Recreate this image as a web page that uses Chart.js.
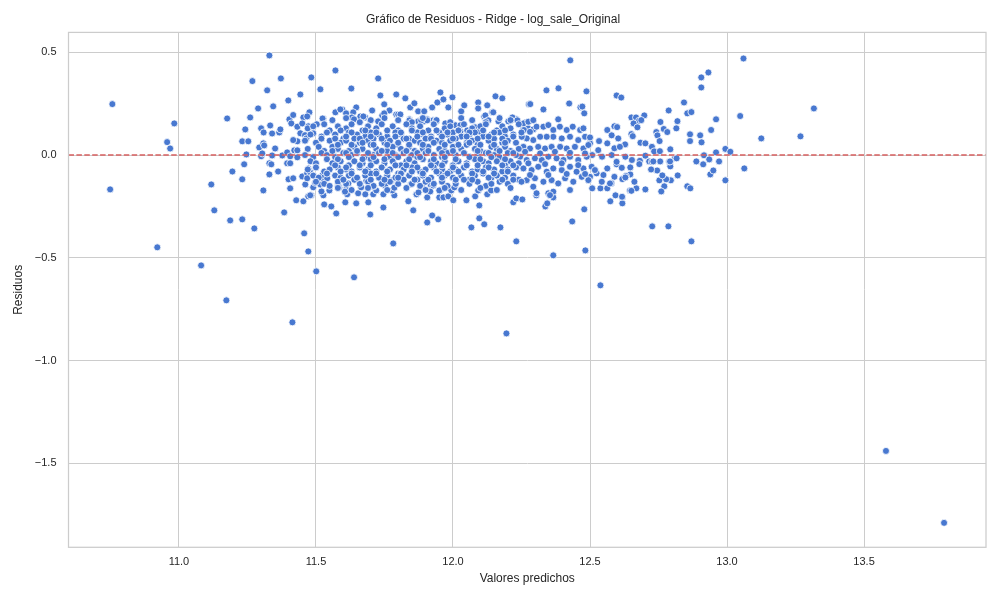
<!DOCTYPE html>
<html>
<head>
<meta charset="utf-8">
<script src="https://cdn.jsdelivr.net/npm/chart.js@4.4.1/dist/chart.umd.min.js"></script>
<style>
  html, body { margin: 0; padding: 0; background: #fff; }
</style>
</head>
<body>
<canvas id="grafico" width="1000" height="600"></canvas>
<script>
// [valor predicho, residuo]
const extremos = [
  [10.757,0.248],[10.749,-0.167],[10.957,0.063],[10.968,0.032],[10.983,0.154],[10.921,-0.449],
  [11.081,-0.537],[11.173,-0.707],[11.414,-0.814],[11.501,-0.566],[11.639,-0.595],[12.195,-0.868],
  [12.538,-0.634],[13.58,-1.44],[13.792,-1.79],[13.317,0.227],[13.268,0.091],[13.125,0.081],
  [13.06,0.47],[13.048,0.19],[13.063,-0.065],[12.428,0.461],[11.33,0.485],[11.571,0.412]
];

const flancoIzquierdo = [
  [11.118,-0.143],[11.129,-0.269],[11.176,0.178],[11.187,-0.318],[11.195,-0.08],[11.231,-0.313],
  [11.231,0.067],[11.231,-0.118],[11.238,-0.045],[11.242,0.125],[11.246,0.003],[11.253,0.067],
  [11.26,0.183],[11.268,0.36],[11.275,-0.357],[11.289,0.227],[11.293,0.037],[11.3,0.13],
  [11.3,-0.006],[11.304,0.008],[11.308,-0.172],[11.308,0.057],[11.309,0.11],[11.311,0.047],
  [11.322,0.315],[11.33,-0.04],[11.33,-0.094],[11.333,0.144],[11.337,-0.045],[11.34,0.105],
  [11.34,-0.002],[11.344,0.237],[11.351,0.032],[11.362,-0.08],[11.366,0.11],[11.37,0.125],
  [11.372,0.373],[11.377,-0.002],[11.384,-0.279],[11.395,0.013],[11.395,-0.04],[11.399,0.266],
  [11.4,-0.118],[11.403,0.174],[11.406,-0.006],[11.406,-0.04],[11.406,-0.162],[11.41,0.154],
  [11.417,0.195],[11.417,-0.113],[11.421,0.023],[11.428,-0.22],[11.432,0.023],[11.432,-0.011],
  [11.432,0.067],[11.443,0.295],[11.443,0.106],[11.432,0.138],[11.46,0.097],[11.417,0.073]
];

const bordeSuperior = [
  [11.483,0.378],[11.516,0.32],[11.629,0.324],[11.727,0.373],[11.735,0.29],[11.793,0.295],
  [11.826,0.276],[11.749,0.247],[11.768,0.217],[11.793,0.198],[11.476,0.208],[11.647,0.232],
  [11.705,0.217],[11.742,0.193],[11.454,0.183],[11.468,0.188],[11.45,0.154],[11.472,0.14],
  [11.49,0.106],[11.465,0.081],[11.844,0.232],[11.859,0.252],[11.873,0.213],[11.895,0.213],
  [11.924,0.232],[11.943,0.256],[11.954,0.305],[11.965,0.271],[11.983,0.232],[11.998,0.281],
  [12.03,0.213],[12.041,0.242],[12.092,0.256],[12.092,0.227],[12.125,0.242],[12.155,0.286],
  [12.18,0.276],[12.114,0.188],[12.143,0.208],[12.216,0.183],[12.232,0.174],[12.277,0.247],
  [12.282,0.248],[12.33,0.222],[12.341,0.315],[12.385,0.325],[12.424,0.251],[12.465,0.233],
  [12.472,0.236],[12.479,0.203],[12.487,0.31],[12.597,0.29],[12.614,0.28],[11.571,0.208],
  [11.596,0.222],[11.589,0.222],[11.61,0.203],[11.636,0.208],[11.527,0.178],[11.503,0.15],
  [11.8,0.198],[11.662,0.188],[11.68,0.183],[11.631,0.183],[11.639,0.174],[11.673,0.188],
  [11.698,0.169],[11.727,0.164],[11.749,0.203],[11.808,0.198],[11.841,0.174],[11.873,0.164],
  [11.895,0.164],[11.906,0.174],[11.928,0.169],[11.939,0.164],[11.972,0.154],[11.994,0.154],
  [12.009,0.145],[12.027,0.115],[12.052,0.12],[12.081,0.135],[12.096,0.115],[12.027,0.145],
  [11.976,0.115],[11.938,0.169],[11.906,0.169],[11.884,0.169],[11.841,0.169],[12.147,0.208],
  [12.118,0.193],[12.129,0.169],[12.217,0.183],[12.235,0.169],[12.264,0.159],[12.293,0.169],
  [12.202,0.164],[12.166,0.164],[12.257,0.13],[12.275,0.13],[12.293,0.125],[11.524,0.178]
];

const bordeInferior = [
  [11.457,-0.381],[11.472,-0.469],[11.454,-0.225],[11.472,-0.201],[11.483,-0.196],[11.479,-0.196],
  [11.527,-0.196],[11.53,-0.24],[11.556,-0.25],[11.574,-0.284],[11.607,-0.23],[11.614,-0.191],
  [11.647,-0.235],[11.654,-0.186],[11.68,-0.191],[11.691,-0.23],[11.709,-0.191],[11.698,-0.289],
  [11.746,-0.191],[11.746,-0.255],[11.786,-0.196],[11.782,-0.43],[11.837,-0.225],[11.855,-0.269],
  [11.866,-0.191],[11.906,-0.206],[11.906,-0.328],[11.924,-0.294],[11.946,-0.313],[11.917,-0.177],
  [11.954,-0.17],[11.95,-0.206],[11.965,-0.206],[11.983,-0.201],[12.001,-0.22],[12.049,-0.22],
  [12.081,-0.201],[12.096,-0.245],[12.125,-0.191],[12.096,-0.308],[12.114,-0.337],[12.067,-0.352],
  [12.173,-0.352],[12.22,-0.23],[12.231,-0.211],[12.253,-0.216],[12.304,-0.196],[12.231,-0.42],
  [12.366,-0.488],[12.483,-0.464],[12.435,-0.323],[12.479,-0.264],[12.337,-0.25],[12.344,-0.235],
  [12.362,-0.201],[12.366,-0.206],[12.348,-0.186],[12.574,-0.225],[12.593,-0.196],[12.618,-0.206],
  [12.618,-0.235],[12.508,-0.162],[12.538,-0.162],[12.563,-0.162],[12.578,-0.138],[12.646,-0.172],
  [11.549,-0.172],[11.52,-0.177],[11.461,-0.143],[11.49,-0.157],[11.497,-0.135],[11.516,-0.143],
  [11.61,-0.167],[11.606,-0.178],[11.72,-0.172],[11.711,-0.152],[11.752,-0.148],[11.779,-0.172],
  [11.786,-0.159],[11.846,-0.143],[11.886,-0.152],[11.918,-0.143],[11.928,-0.148],[11.95,-0.172],
  [11.994,-0.172],[12.005,-0.157],[11.867,-0.191],[11.874,-0.182],[12.092,-0.172],[12.139,-0.172],
  [11.45,-0.104],[11.468,-0.089],[11.479,-0.084],[11.49,-0.099],[11.468,-0.113],[11.472,-0.065],
  [11.527,-0.118],[11.523,-0.099],[11.541,-0.113],[11.585,-0.157],[11.581,-0.148],[11.618,-0.138],
  [11.665,-0.157],[11.684,-0.125],[11.742,-0.124],[11.775,-0.124],[11.793,-0.108]
];

const flancoDerecho = [
  [12.563,0.122],[12.589,0.14],[12.599,0.136],[12.579,0.096],[12.603,0.081],[12.628,0.052],
  [12.651,0.102],[12.656,0.092],[12.684,0.06],[12.702,0.057],[12.726,0.04],[12.734,0.018],
  [12.716,-0.031],[12.702,-0.003],[12.682,-0.028],[12.68,-0.044],[12.726,-0.033],[12.669,-0.162],
  [12.651,-0.174],[12.702,-0.167],[12.617,-0.203],[12.662,-0.13],[12.647,-0.094],[12.631,-0.102],
  [12.618,-0.117],[12.589,-0.106],[12.578,-0.136],[12.563,-0.065],[12.597,-0.045],[12.616,-0.062],
  [12.647,-0.06],[12.629,-0.008],[12.653,-0.024],[12.533,0.068],[12.563,0.057],[12.589,0.033],
  [12.609,0.04],[12.544,-0.008],[12.579,0.0],[12.597,-0.033],[12.5,-0.106],[12.524,-0.089],
  [12.543,-0.13],[12.573,-0.138],[12.506,-0.057],[12.698,0.193],[12.651,0.183],[12.668,0.183],
  [12.679,0.167],[12.687,0.17],[12.659,0.154],[12.673,0.135],[12.757,0.161],[12.769,0.127],
  [12.782,0.112],[12.742,0.112],[12.746,0.096],[12.754,0.068],[12.787,0.217],[12.819,0.165],
  [12.815,0.13],[12.843,0.256],[12.855,0.203],[12.87,0.209],[12.865,0.101],[12.865,0.068],
  [12.902,0.096],[12.907,0.062],[12.932,0.402],[12.906,0.378],[12.906,0.329],[12.96,0.174],
  [12.942,0.122],[12.994,0.03],[13.012,0.016],[12.96,0.013],[12.916,-0.001],[12.913,-0.045],
  [12.935,-0.021],[12.971,-0.031],[12.888,-0.031],[12.939,-0.094],[12.95,-0.075],[12.994,-0.123],
  [12.855,-0.152],[12.866,-0.162],[12.82,-0.099],[12.795,-0.123],[12.81,-0.016],[12.771,-0.152],
  [12.76,-0.177],[12.753,-0.123],[12.778,-0.118],[12.764,-0.099],[12.793,-0.055],[12.789,-0.031],
  [12.756,-0.031],[12.745,-0.075],[12.723,-0.07],[12.731,-0.031],[12.816,-0.016],[12.792,-0.031],
  [12.793,0.028],[12.755,0.019],[12.727,-0.347],[12.786,-0.347],[12.87,-0.42],[12.629,-0.109],
  [12.5,0.057],[12.508,0.0],[12.53,0.024],[12.518,-0.073],[12.549,-0.097]
];

const nucleoDerecho = [
  [12.257,0.154],[12.275,0.162],[12.293,0.17],[12.259,0.122],[12.281,0.113],[12.305,0.138],
  [12.33,0.138],[12.348,0.146],[12.366,0.122],[12.384,0.174],[12.39,0.138],[12.415,0.122],
  [12.437,0.138],[12.464,0.122],[12.476,0.13],[12.482,0.089],[12.5,0.086],[12.457,0.073],
  [12.427,0.089],[12.397,0.081],[12.366,0.089],[12.342,0.089],[12.318,0.089],[12.293,0.073],
  [12.269,0.081],[12.251,0.089],[12.257,0.04],[12.281,0.032],[12.311,0.04],[12.336,0.032],
  [12.36,0.04],[12.391,0.04],[12.415,0.032],[12.445,0.04],[12.476,0.032],[12.494,0.049],
  [12.245,-0.008],[12.269,-0.024],[12.299,-0.016],[12.324,-0.024],[12.348,-0.008],[12.378,-0.016],
  [12.403,-0.024],[12.427,-0.008],[12.457,-0.024],[12.488,-0.008],[12.257,-0.065],[12.287,-0.073],
  [12.311,-0.057],[12.342,-0.081],[12.366,-0.065],[12.397,-0.073],[12.427,-0.057],[12.451,-0.081],
  [12.476,-0.065],[12.269,-0.122],[12.299,-0.113],[12.33,-0.13],[12.36,-0.122],[12.384,-0.138],
  [12.409,-0.113],[12.439,-0.13],[12.47,-0.106],[12.494,-0.122],[12.305,-0.186],[12.366,-0.178],
  [12.427,-0.17],[12.293,-0.154],[12.354,-0.195],[12.263,0.016],[12.318,0.008],[12.372,0.016],
  [12.427,0.011],[12.482,0.008],[12.275,-0.04],[12.336,-0.044],[12.397,-0.04],[12.457,-0.049],
  [12.281,-0.097],[12.348,-0.097],[12.415,-0.092],[12.482,-0.092]
];

const nucleo = [
  [11.56,0.17],[11.61,0.18],[11.66,0.16],[11.70,0.17],[11.75,0.18],[11.80,0.17],[11.85,0.16],[11.89,0.18],
  [11.94,0.17],[11.99,0.16],[12.03,0.18],[12.07,0.17],[12.12,0.16],[12.17,0.18],[12.21,0.17],
  [11.47,0.13],[11.49,0.14],[11.53,0.15],[11.55,0.12],[11.58,0.14],[11.61,0.13],[11.63,0.15],[11.67,0.12],
  [11.69,0.14],[11.72,0.13],[11.74,0.15],[11.78,0.14],[11.80,0.12],[11.83,0.15],[11.85,0.13],[11.88,0.14],
  [11.91,0.12],[11.93,0.15],[11.97,0.13],[11.99,0.14],[12.02,0.12],[12.04,0.15],[12.07,0.13],[12.10,0.14],
  [12.12,0.15],[12.16,0.12],[12.18,0.14],[12.21,0.13],[12.24,0.15],
  [11.48,0.10],[11.52,0.09],[11.54,0.11],[11.57,0.10],[11.60,0.08],[11.62,0.11],[11.65,0.10],[11.68,0.09],
  [11.70,0.11],[11.73,0.10],[11.76,0.09],[11.79,0.11],[11.81,0.10],[11.84,0.08],[11.87,0.11],[11.89,0.10],
  [11.92,0.09],[11.95,0.11],[11.98,0.10],[12.00,0.11],[12.03,0.09],[12.06,0.10],[12.08,0.11],[12.11,0.09],
  [12.14,0.10],[12.17,0.11],[12.19,0.09],[12.22,0.10],[12.25,0.11],
  [11.46,0.07],[11.50,0.06],[11.52,0.08],[11.55,0.07],[11.59,0.06],[11.61,0.07],[11.64,0.08],[11.66,0.06],
  [11.69,0.07],[11.71,0.08],[11.75,0.06],[11.77,0.07],[11.80,0.05],[11.82,0.08],[11.86,0.07],[11.88,0.06],
  [11.90,0.08],[11.94,0.07],[11.96,0.06],[11.99,0.07],[12.01,0.08],[12.05,0.06],[12.07,0.07],[12.09,0.05],
  [12.13,0.07],[12.15,0.08],[12.18,0.06],[12.20,0.07],[12.23,0.06],
  [11.47,0.03],[11.51,0.04],[11.53,0.02],[11.56,0.04],[11.58,0.03],[11.62,0.02],[11.64,0.04],[11.67,0.03],
  [11.70,0.05],[11.72,0.03],[11.76,0.02],[11.78,0.04],[11.81,0.03],[11.84,0.04],[11.86,0.02],[11.89,0.03],
  [11.91,0.04],[11.95,0.03],[11.97,0.02],[12.00,0.04],[12.03,0.03],[12.05,0.05],[12.08,0.03],[12.10,0.02],
  [12.14,0.04],[12.16,0.03],[12.19,0.04],[12.21,0.02],[12.24,0.03],
  [11.46,0.00],[11.49,-0.01],[11.52,0.01],[11.54,0.00],[11.57,-0.01],[11.60,0.01],[11.63,0.00],[11.65,0.01],
  [11.68,-0.01],[11.71,0.00],[11.73,0.01],[11.77,-0.01],[11.79,0.00],[11.82,0.01],[11.85,0.00],[11.87,-0.01],
  [11.90,0.01],[11.93,0.00],[11.96,-0.01],[11.98,0.01],[12.01,0.00],[12.04,0.01],[12.06,-0.01],[12.09,0.00],
  [12.12,0.01],[12.15,0.00],[12.17,-0.01],[12.20,0.01],[12.23,0.00],
  [11.48,-0.03],[11.50,-0.04],[11.54,-0.02],[11.56,-0.04],[11.59,-0.03],[11.62,-0.05],[11.64,-0.03],[11.67,-0.04],
  [11.70,-0.02],[11.72,-0.03],[11.75,-0.04],[11.78,-0.03],[11.81,-0.05],[11.83,-0.03],[11.86,-0.04],[11.89,-0.02],
  [11.92,-0.03],[11.94,-0.04],[11.97,-0.03],[12.00,-0.05],[12.02,-0.03],[12.05,-0.04],[12.08,-0.02],[12.11,-0.03],
  [12.13,-0.04],[12.16,-0.03],[12.19,-0.05],[12.21,-0.03],[12.24,-0.04],
  [11.47,-0.07],[11.50,-0.06],[11.53,-0.08],[11.55,-0.07],[11.58,-0.06],[11.61,-0.07],[11.63,-0.08],[11.66,-0.06],
  [11.69,-0.07],[11.72,-0.08],[11.74,-0.06],[11.77,-0.07],[11.80,-0.09],[11.82,-0.07],[11.85,-0.06],[11.88,-0.08],
  [11.90,-0.07],[11.93,-0.06],[11.96,-0.07],[11.99,-0.08],[12.01,-0.07],[12.04,-0.06],[12.07,-0.08],[12.09,-0.07],
  [12.12,-0.06],[12.15,-0.07],[12.18,-0.08],[12.20,-0.07],[12.23,-0.06],
  [11.49,-0.10],[11.51,-0.11],[11.54,-0.09],[11.57,-0.10],[11.59,-0.11],[11.62,-0.10],[11.65,-0.12],[11.68,-0.10],
  [11.70,-0.09],[11.73,-0.11],[11.76,-0.10],[11.79,-0.11],[11.81,-0.09],[11.84,-0.10],[11.87,-0.12],[11.89,-0.10],
  [11.92,-0.11],[11.95,-0.09],[11.97,-0.10],[12.00,-0.11],[12.03,-0.10],[12.06,-0.12],[12.08,-0.10],[12.11,-0.09],
  [12.14,-0.11],[12.16,-0.10],[12.19,-0.11],[12.22,-0.10],[12.24,-0.12],
  [11.50,-0.13],[11.53,-0.14],[11.55,-0.15],[11.58,-0.13],[11.61,-0.14],[11.64,-0.12],[11.66,-0.14],[11.69,-0.13],
  [11.71,-0.15],[11.74,-0.14],[11.77,-0.13],[11.80,-0.14],[11.82,-0.12],[11.85,-0.14],[11.88,-0.15],[11.90,-0.13],
  [11.93,-0.14],[11.96,-0.13],[11.98,-0.15],[12.01,-0.14],[12.04,-0.12],[12.06,-0.14],[12.09,-0.13],[12.12,-0.15],
  [12.14,-0.14],[12.17,-0.13],[12.20,-0.14],[12.22,-0.12],[12.25,-0.13],
  [11.58,-0.16],[11.63,-0.17],[11.69,-0.16],[11.76,-0.17],[11.83,-0.16],[11.90,-0.17],[11.97,-0.16],[12.03,-0.17],
  [12.10,-0.16],[12.16,-0.17],[12.21,-0.16]
];

// zona mas densa del centro, donde los puntos se tapan entre si
const nucleoDenso = [
  [11.59,0.12],[11.63,0.11],[11.68,0.12],[11.72,0.11],[11.76,0.12],[11.81,0.11],[11.85,0.12],[11.89,0.11],
  [11.94,0.12],[11.98,0.11],[12.02,0.12],[12.06,0.11],[12.11,0.12],[12.15,0.11],[12.19,0.12],
  [11.57,0.08],[11.61,0.09],[11.66,0.08],[11.70,0.09],[11.74,0.08],[11.79,0.09],[11.83,0.08],[11.87,0.09],
  [11.92,0.08],[11.96,0.09],[12.00,0.08],[12.05,0.09],[12.09,0.08],[12.13,0.09],[12.18,0.08],[12.22,0.09],
  [11.58,0.05],[11.63,0.05],[11.67,0.06],[11.71,0.05],[11.76,0.05],[11.80,0.06],[11.84,0.05],[11.89,0.05],
  [11.93,0.06],[11.97,0.05],[12.02,0.05],[12.06,0.06],[12.10,0.05],[12.15,0.05],[12.19,0.06],
  [11.56,0.02],[11.61,0.01],[11.65,0.02],[11.69,0.01],[11.74,0.02],[11.78,0.01],[11.83,0.02],[11.87,0.01],
  [11.91,0.02],[11.96,0.01],[12.00,0.02],[12.04,0.01],[12.09,0.02],[12.13,0.01],[12.17,0.02],[12.22,0.01],
  [11.58,-0.02],[11.62,-0.01],[11.67,-0.02],[11.71,-0.01],[11.75,-0.02],[11.80,-0.01],[11.84,-0.02],[11.88,-0.01],
  [11.93,-0.02],[11.97,-0.01],[12.01,-0.02],[12.06,-0.01],[12.10,-0.02],[12.14,-0.01],[12.19,-0.02],
  [11.57,-0.05],[11.61,-0.06],[11.66,-0.05],[11.70,-0.05],[11.74,-0.06],[11.79,-0.05],[11.83,-0.05],[11.87,-0.06],
  [11.92,-0.05],[11.96,-0.05],[12.00,-0.06],[12.05,-0.05],[12.09,-0.05],[12.13,-0.06],[12.18,-0.05],[12.22,-0.05],
  [11.59,-0.08],[11.63,-0.09],[11.68,-0.08],[11.72,-0.09],[11.76,-0.08],[11.81,-0.09],[11.85,-0.08],[11.89,-0.09],
  [11.94,-0.08],[11.98,-0.09],[12.02,-0.08],[12.07,-0.09],[12.11,-0.08],[12.15,-0.09],[12.20,-0.08],
  [11.60,-0.12],[11.65,-0.11],[11.70,-0.12],[11.75,-0.12],[11.80,-0.11],[11.86,-0.12],[11.91,-0.12],[11.96,-0.11],
  [12.01,-0.12],[12.07,-0.12],[12.13,-0.11],[12.18,-0.12]
];

const xTicks = [11.0, 11.5, 12.0, 12.5, 13.0, 13.5];
const xTickLabels = ['11.0', '11.5', '12.0', '12.5', '13.0', '13.5'];
const yTicks = [-1.5, -1.0, -0.5, 0.0, 0.5];
const yTickLabels = ['\u22121.5', '\u22121.0', '\u22120.5', '0.0', '0.5'];
const xRange = [10.597, 13.945];
const yRange = [-1.909, 0.597];
const lineaCero = 0;

const puntos = [].concat(extremos, flancoIzquierdo, bordeSuperior, bordeInferior,
  flancoDerecho, nucleoDerecho, nucleo, nucleoDenso).map(p => ({ x: p[0], y: p[1] }));

const fuente = '"Liberation Sans", Arial, sans-serif';
const texto = '#262626';

// marco gris alrededor del area (los 4 lados, como seaborn whitegrid)
const marco = {
  id: 'marco',
  afterDatasetsDraw(chart) {
    const { ctx, chartArea: a } = chart;
    ctx.save();
    ctx.strokeStyle = '#cccccc';
    ctx.lineWidth = 1.25;
    ctx.strokeRect(a.left, a.top, a.right - a.left, a.bottom - a.top);
    ctx.restore();
  }
};

new Chart(document.getElementById('grafico'), {
  type: 'scatter',
  data: {
    datasets: [
      {
        type: 'line',
        data: [{ x: xRange[0], y: lineaCero }, { x: xRange[1], y: lineaCero }],
        borderColor: '#d65f5f',
        borderWidth: 1.5,
        borderDash: [5.5, 2.4],
        pointRadius: 0,
        showLine: true,
        fill: false,
        order: 0
      },
      {
        data: puntos,
        backgroundColor: '#4878d0',
        borderColor: '#ffffff',
        borderWidth: 0.8,
        pointRadius: 3.5,
        pointHoverRadius: 3.5,
        order: 1
      }
    ]
  },
  options: {
    responsive: false,
    devicePixelRatio: 1,
    animation: false,
    layout: { padding: { left: 0, right: 14, top: 0, bottom: 0 } },
    plugins: {
      legend: { display: false },
      tooltip: { enabled: false },
      title: {
        display: true,
        text: 'Gráfico de Residuos - Ridge - log_sale_Original',
        color: texto,
        font: { family: fuente, size: 12, weight: 'normal' },
        padding: { top: 12, bottom: 6 }
      }
    },
    scales: {
      x: {
        type: 'linear',
        min: xRange[0],
        max: xRange[1],
        afterBuildTicks: s => { s.ticks = xTicks.map(v => ({ value: v })); },
        afterFit: s => { s.height = 52.7; },
        ticks: {
          callback: v => xTickLabels[xTicks.indexOf(v)],
          color: texto,
          font: { family: fuente, size: 11 },
          padding: 8,
          maxRotation: 0
        },
        grid: { color: '#cccccc', lineWidth: 1, drawTicks: false },
        border: { display: false },
        title: {
          display: true,
          text: 'Valores predichos',
          color: texto,
          font: { family: fuente, size: 12 },
          padding: { top: 0, bottom: 14.5 }
        }
      },
      y: {
        type: 'linear',
        min: yRange[0],
        max: yRange[1],
        afterBuildTicks: s => { s.ticks = yTicks.map(v => ({ value: v })); },
        afterFit: s => { s.width = 68.5; },
        ticks: {
          callback: v => yTickLabels[yTicks.indexOf(v)],
          color: texto,
          font: { family: fuente, size: 11 },
          padding: 12
        },
        grid: { color: '#cccccc', lineWidth: 1, drawTicks: false },
        border: { display: false },
        title: {
          display: true,
          text: 'Residuos',
          color: texto,
          font: { family: fuente, size: 12 },
          padding: { top: 11, bottom: 0 }
        }
      }
    }
  },
  plugins: [marco]
});
</script>
</body>
</html>
